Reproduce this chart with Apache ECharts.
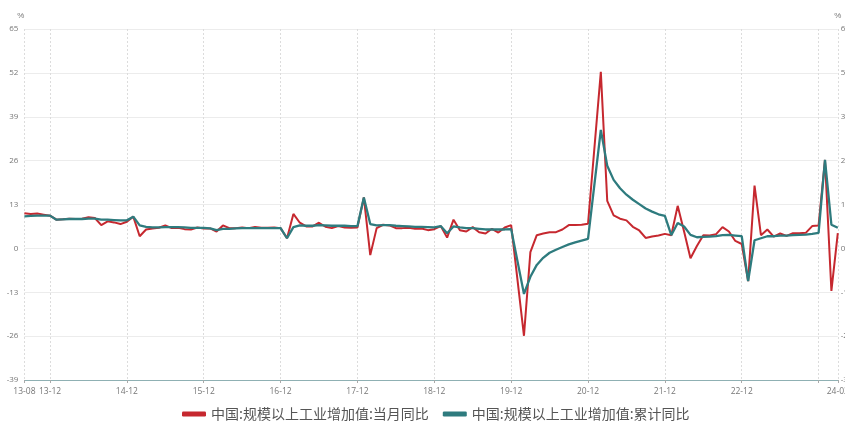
<!DOCTYPE html>
<html>
<head>
<meta charset="utf-8">
<script src="https://cdn.jsdelivr.net/npm/echarts@6/dist/echarts.min.js"></script>
<style>
  html, body { margin: 0; padding: 0; background: #fff; }
  #chart { width: 845px; height: 421px; }
</style>
</head>
<body>
<div id="chart"></div>
<script>
// Monthly axis, 2013-08 .. 2024-03 (yy-mm)
const months = [];
for (let y = 2013; y <= 2024; y++) {
  for (let m = 1; m <= 12; m++) {
    if (y === 2013 && m < 8) continue;
    if (y === 2024 && m > 3) break;
    months.push(String(y).slice(2) + '-' + String(m).padStart(2, '0'));
  }
}

// 规模以上工业增加值:当月同比 (%), one value per month
const monthlyYoY = [
  10.4, 10.2, 10.3, 10.0, 9.7,                                   // 2013 Aug-Dec
  8.5, 8.6, 8.8, 8.7, 8.8, 9.2, 9.0, 6.9, 8.0, 7.7, 7.2, 7.9,      // 2014
  9.4, 3.6, 5.6, 5.9, 6.1, 6.8, 6.0, 6.1, 5.7, 5.6, 6.2, 5.9,      // 2015
  5.9, 5.0, 6.8, 6.0, 6.0, 6.2, 6.0, 6.3, 6.1, 6.1, 6.2, 6.0,      // 2016
  3.0, 10.2, 7.6, 6.5, 6.5, 7.6, 6.4, 6.0, 6.6, 6.2, 6.1, 6.2,     // 2017
  15.1, -2.0, 6.0, 7.0, 6.8, 6.0, 6.0, 6.1, 5.8, 5.9, 5.4, 5.7,    // 2018
  6.6, 3.2, 8.5, 5.4, 5.0, 6.3, 4.8, 4.4, 5.8, 4.7, 6.2, 6.9,      // 2019
  null, -25.9, -1.1, 3.9, 4.4, 4.8, 4.8, 5.6, 6.9, 6.9, 7.0, 7.3,  // 2020
  null, 52.3, 14.1, 9.8, 8.8, 8.3, 6.4, 5.3, 3.1, 3.5, 3.8, 4.3,   // 2021
  3.9, 12.6, 5.0, -2.9, 0.7, 3.9, 3.8, 4.2, 6.3, 5.0, 2.2, 1.3,    // 2022
  -9.7, 18.6, 3.9, 5.6, 3.5, 4.4, 3.7, 4.5, 4.5, 4.6, 6.6, 6.8,    // 2023
  26.2, -12.6, 4.5                                               // 2024 Jan-Mar
];

// 规模以上工业增加值:累计同比 (%)
const cumulativeYoY = [
  9.5, 9.6, 9.7, 9.7, 9.7,                                       // 2013 Aug-Dec
  8.5, 8.6, 8.7, 8.7, 8.7, 8.8, 8.8, 8.5, 8.5, 8.4, 8.3, 8.3,      // 2014
  9.4, 6.8, 6.4, 6.2, 6.2, 6.3, 6.3, 6.3, 6.2, 6.1, 6.1, 6.1,      // 2015
  5.9, 5.4, 5.8, 5.8, 5.9, 6.0, 6.0, 6.0, 6.0, 6.0, 6.0, 6.0,      // 2016
  3.0, 6.3, 6.8, 6.7, 6.7, 6.9, 6.8, 6.7, 6.7, 6.7, 6.6, 6.6,      // 2017
  15.1, 7.2, 6.8, 6.9, 6.9, 6.7, 6.6, 6.5, 6.4, 6.4, 6.3, 6.2,     // 2018
  6.6, 4.5, 6.5, 6.2, 6.0, 6.0, 5.8, 5.6, 5.6, 5.6, 5.6, 5.7,      // 2019
  null, -13.5, -8.4, -4.9, -2.8, -1.3, -0.4, 0.4, 1.2, 1.8, 2.3, 2.8, // 2020
  null, 35.1, 24.5, 20.3, 17.8, 15.9, 14.4, 13.1, 11.8, 10.9, 10.1, 9.6, // 2021
  3.9, 7.5, 6.5, 4.0, 3.3, 3.4, 3.5, 3.6, 3.9, 4.0, 3.8, 3.6,      // 2022
  -9.7, 2.4, 3.0, 3.6, 3.6, 3.8, 3.8, 3.9, 4.0, 4.1, 4.3, 4.6,     // 2023
  26.2, 7.0, 6.1                                                 // 2024 Jan-Mar
];

const seriesNames = ['中国:规模以上工业增加值:当月同比', '中国:规模以上工业增加值:累计同比'];
const seriesColors = ['#c6282f', '#2e7b7e'];

// first month, every December, and the final month carry a tick
const lastIdx = months.length - 1;
const isMarked = (i, v) => i === 0 || i === lastIdx || v.endsWith('-12');
// 23-12 sits too close to the final label, so it keeps its grid line only
const isLabelled = (i, v) => isMarked(i, v) && v !== '23-12';

const labelFont = 'Open Sans, Noto Sans CJK SC, sans-serif';

const chart = echarts.init(document.getElementById('chart'), null, { renderer: 'canvas' });
chart.setOption({
  animation: false,
  backgroundColor: '#fff',
  grid: { left: 24.4, right: 7.2, top: 29, bottom: 41, containLabel: false, outerBoundsMode: 'none' },
  legend: {
    top: 402,
    left: 177,
    itemWidth: 24,
    itemHeight: 5,
    itemGap: 14,
    icon: 'roundRect',
    textStyle: { color: '#555', fontSize: 14, fontFamily: 'Noto Sans CJK SC, sans-serif' },
    data: seriesNames
  },
  xAxis: {
    type: 'category',
    data: months,
    boundaryGap: false,
    axisLine: { show: true, onZero: false, lineStyle: { color: '#8fb0b3', width: 1 } },
    axisTick: { show: true, interval: isMarked, length: 3, lineStyle: { color: '#aaa' } },
    axisLabel: { interval: isLabelled, margin: 7, fontSize: 8.5, color: '#777', fontFamily: labelFont },
    splitLine: { show: true, interval: isMarked, lineStyle: { color: '#dcdcdc', type: [2, 2] } }
  },
  yAxis: [
    {
      type: 'value', min: -39, max: 65, interval: 13,
      name: '%', nameGap: 9, nameTextStyle: { color: '#777', fontSize: 8, align: 'right' },
      axisLine: { show: false }, axisTick: { show: false },
      axisLabel: { margin: 6, fontSize: 8, color: '#777', fontFamily: labelFont },
      splitLine: { show: true, lineStyle: { color: '#ececec', width: 1 } }
    },
    {
      type: 'value', min: -39, max: 65, interval: 13, position: 'right',
      name: '%', nameGap: 9, nameTextStyle: { color: '#777', fontSize: 8, align: 'center' },
      axisLine: { show: false }, axisTick: { show: false },
      axisLabel: { margin: 3, fontSize: 8, color: '#777', fontFamily: labelFont },
      splitLine: { show: false }
    }
  ],
  series: [
    {
      name: seriesNames[0], type: 'line', data: monthlyYoY, yAxisIndex: 0,
      connectNulls: true, showSymbol: false, symbol: 'none',
      lineStyle: { color: seriesColors[0], width: 2 }, itemStyle: { color: seriesColors[0] }, z: 2
    },
    {
      name: seriesNames[1], type: 'line', data: cumulativeYoY, yAxisIndex: 0,
      connectNulls: true, showSymbol: false, symbol: 'none',
      lineStyle: { color: seriesColors[1], width: 2.3 }, itemStyle: { color: seriesColors[1] }, z: 3
    }
  ]
});
</script>
</body>
</html>
